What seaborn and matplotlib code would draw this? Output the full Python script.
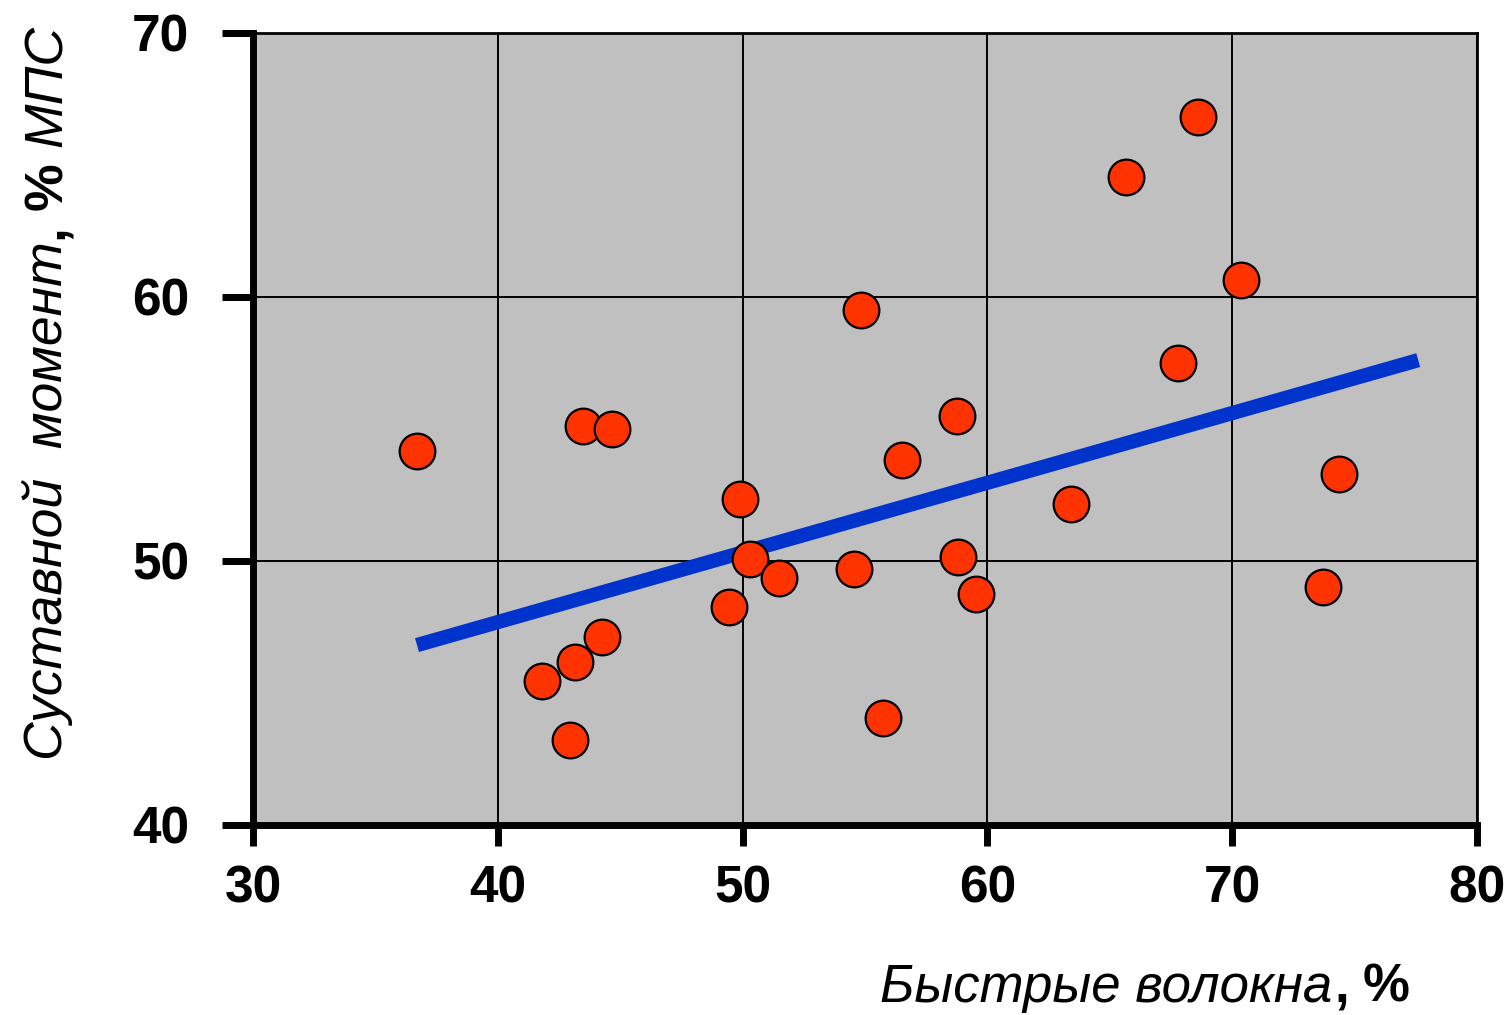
import matplotlib
matplotlib.use('Agg')
import matplotlib.pyplot as plt
import seaborn as sns
import pandas as pd

# values
fiber = [36.7, 43.5, 44.65, 41.8, 43.15, 44.25, 42.95, 49.9, 50.3, 49.45,
         51.5, 54.85, 54.55, 55.75, 56.5, 58.75, 58.8, 59.55, 63.4, 65.65,
         68.6, 67.8, 70.35, 74.35, 73.7]
moment = [54.15, 55.1, 55.0, 45.45, 46.15, 47.1, 43.2, 52.35, 50.05, 48.25,
          49.35, 59.5, 49.7, 44.05, 53.8, 55.5, 50.15, 48.75, 52.15, 64.55,
          66.8, 57.5, 60.65, 53.3, 49.0]
trend_x = [36.7, 77.6]
trend_y = [46.8, 57.6]
x_ticks = [30, 40, 50, 60, 70, 80]
y_ticks = [40, 50, 60, 70]

sns.set_style('white')
plt.rcParams['font.family'] = ['Liberation Sans', 'DejaVu Sans']
plt.rcParams['text.color'] = 'black'
plt.rcParams['xtick.color'] = 'black'
plt.rcParams['ytick.color'] = 'black'

W, H = 1512, 1015
fig = plt.figure(figsize=(W / 100, H / 100), dpi=100)
ax = fig.add_axes([253 / W, (H - 824.5) / H, (1477 - 253) / W, (824.5 - 33) / H])

df = pd.DataFrame({'fiber': fiber, 'moment': moment})
sns.lineplot(x=trend_x, y=trend_y, ax=ax, color='#0033CC', linewidth=10.3,
             solid_capstyle='butt', zorder=2)
sns.scatterplot(data=df, x='fiber', y='moment', ax=ax, s=660, color='#FF3300',
                edgecolor='black', linewidth=1.6, zorder=3)

ax.set_facecolor('#C0C0C0')
ax.set_xlim(30, 80)
ax.set_ylim(40, 70)
ax.set_xticks(x_ticks)
ax.set_yticks(y_ticks)
ax.grid(True, color='black', linewidth=1.4)
ax.set_axisbelow(True)

for side in ['left', 'bottom']:
    ax.spines[side].set_linewidth(5)
for side in ['top', 'right']:
    ax.spines[side].set_linewidth(2)
for sp in ax.spines.values():
    sp.set_color('black')
    sp.set_visible(True)

ax.tick_params(axis='both', direction='out', width=5, color='black',
               labelcolor='black', labelsize=37, bottom=True, left=True)
ax.tick_params(axis='x', length=15, pad=14)
ax.tick_params(axis='y', length=22, pad=24)
for lbl in ax.get_xticklabels() + ax.get_yticklabels():
    lbl.set_fontweight('bold')
ax.set_xlabel('')
ax.set_ylabel('')


# labels mix italic and bold parts, so put them together piece by piece
def place_pieces(pieces, x0, y0, size, rotation=0):
    renderer = fig.canvas.get_renderer()
    x, y = x0, y0
    for s, props, gap in pieces:
        if rotation == 0:
            x += gap
        else:
            y += gap
        t = fig.text(x / W, y / H, s, rotation=rotation, rotation_mode='anchor',
                     ha='left', va='baseline', fontsize=size, color='black',
                     **props)
        bb = t.get_window_extent(renderer)
        if rotation == 0:
            x += bb.width
        else:
            y += bb.height


it = {'style': 'italic'}
bf = {'weight': 'bold'}
place_pieces([('Быстрые волокна', it, 0), (',', bf, 2), ('%', bf, 14)],
             880, H - 1002, 38)
place_pieces([('Суставной  момент', it, 0), (',', bf, 2), ('%', bf, 14),
              ('МПС', it, 16)], 62, H - 760, 38.5, rotation=90)

fig.savefig('out.png', dpi=100)
